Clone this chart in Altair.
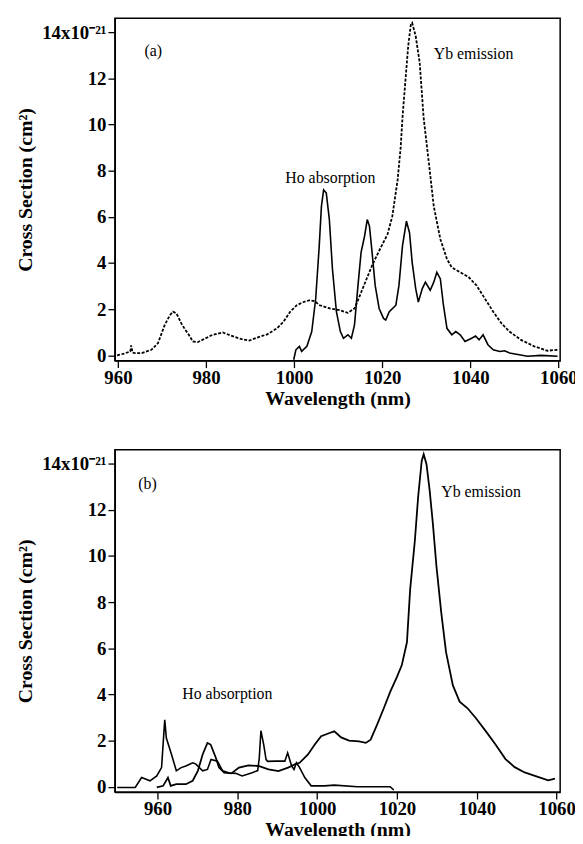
import altair as alt
import pandas as pd

# ---------------- data ----------------
# Panel (a): Yb emission (dotted curve)
a_yb_nm = [959.8, 961.5, 962.8, 963.0, 963.3, 963.9, 965.4, 967.6, 969.1, 970.6, 971.8, 972.5, 973.3, 974.4,
           975.3, 975.9, 977.0, 978.1, 979.6, 981.5, 983.8, 985.6, 987.9, 989.8, 991.6, 993.9,
           996.1, 997.6, 999.1, 1000.6, 1002.0, 1003.6, 1004.7, 1005.8, 1008.1, 1010.3, 1012.2, 1013.7,
           1014.8, 1016.3, 1017.7, 1019.3, 1021.2, 1022.3, 1023.5, 1024.2, 1024.6, 1025.3, 1025.9,
           1026.5, 1026.8, 1027.6, 1028.5, 1029.4, 1030.6, 1031.7, 1033.2, 1034.7, 1035.8, 1037.7,
           1039.6, 1041.4, 1043.3, 1045.2, 1047.1, 1048.9, 1051.5, 1054.5, 1057.5, 1059.8]
a_yb_val = [0.0, 0.08, 0.17, 0.43, 0.12, 0.1, 0.1, 0.24, 0.53, 1.31, 1.74, 1.89, 1.81, 1.38,
            1.1, 0.95, 0.6, 0.57, 0.71, 0.89, 0.99, 0.86, 0.71, 0.64, 0.77, 0.91,
            1.17, 1.46, 1.89, 2.17, 2.3, 2.39, 2.34, 2.17, 2.03, 1.96, 1.84, 2.03,
            2.53, 3.24, 3.89, 4.53, 5.24, 6.03, 7.6, 9.03, 10.3, 11.97, 13.4,
            14.33, 14.4, 13.83, 12.69, 10.3, 8.32, 6.46, 5.03, 4.17, 3.81, 3.6,
            3.39, 3.03, 2.46, 1.89, 1.38, 1.03, 0.67, 0.39, 0.2, 0.24]

# Panel (a): Ho absorption (solid curve)
a_ho_nm = [999.9, 1000.4, 1001.2, 1001.7, 1002.9, 1004.0, 1004.9, 1005.7, 1006.2, 1006.7, 1007.3,
           1008.0, 1008.7, 1009.6, 1010.5, 1011.2, 1012.2, 1013.0, 1013.7, 1014.5, 1015.2, 1016.0,
           1016.6, 1017.1, 1017.7, 1018.4, 1019.3, 1020.3, 1020.8, 1021.6, 1023.1, 1023.8, 1024.6,
           1025.5, 1026.2, 1026.8, 1027.6, 1028.2, 1029.1, 1029.8, 1030.9, 1031.7, 1032.4, 1033.2,
           1033.9, 1034.7, 1035.8, 1036.7, 1037.7, 1038.8, 1040.3, 1041.2, 1042.0, 1042.9, 1044.0,
           1045.2, 1046.7, 1047.8, 1048.9, 1053.0, 1056.0, 1059.8]
a_ho_val = [-0.19, 0.24, 0.39, 0.17, 0.39, 1.03, 2.46, 4.74, 6.46, 7.17, 7.03,
            5.88, 3.74, 1.89, 1.03, 0.74, 0.89, 0.74, 1.31, 3.03, 4.46, 5.17,
            5.88, 5.6, 4.46, 3.03, 2.03, 1.6, 1.53, 1.89, 2.17, 3.03, 4.74,
            5.81, 5.31, 4.03, 2.89, 2.31, 2.89, 3.17, 2.82, 3.17, 3.6, 3.31,
            2.17, 1.17, 0.89, 1.03, 0.89, 0.6, 0.74, 0.84, 0.67, 0.89, 0.46,
            0.24, 0.17, 0.2, 0.1, -0.04, 0.0, -0.04]

# Panel (b): Yb emission
b_yb_nm = [959.8, 961.4, 962.6, 963.3, 964.7, 967.1, 968.8, 970.1, 971.3, 972.5, 973.3, 974.6,
           975.4, 976.7, 978.5, 980.4, 982.8, 985.3, 987.8, 990.3, 992.7, 994.4, 995.6, 997.7,
           999.4, 1001.0, 1003.1, 1004.3, 1006.0, 1008.0, 1010.5, 1012.2, 1013.4, 1015.0, 1016.7,
           1018.3, 1020.0, 1021.2, 1022.5, 1023.3, 1024.5, 1025.3, 1026.2, 1026.7, 1027.4, 1028.2,
           1029.0, 1029.9, 1031.1, 1032.3, 1034.0, 1035.7, 1037.7, 1039.8, 1042.3, 1044.7, 1047.2,
           1049.5, 1052.0, 1055.5, 1057.9, 1059.6]
b_yb_val = [-0.03, 0.04, 0.4, 0.04, 0.11, 0.11, 0.26, 0.69, 1.4, 1.9, 1.83, 1.26,
            0.83, 0.61, 0.58, 0.83, 0.93, 0.9, 0.75, 0.68, 0.83, 0.97, 1.04, 1.4,
            1.83, 2.19, 2.33, 2.4, 2.14, 2.0, 1.97, 1.9, 2.04, 2.68, 3.4,
            4.11, 4.76, 5.26, 6.26, 8.54, 10.69, 12.54, 14.11, 14.4, 13.97, 12.83,
            11.4, 9.54, 7.54, 5.83, 4.4, 3.69, 3.4, 2.97, 2.4, 1.83, 1.2,
            0.85, 0.62, 0.42, 0.28, 0.35]

# Panel (b): Ho absorption
b_ho_nm = [949.9, 954.4, 956.0, 958.1, 959.8, 961.0, 961.8, 962.2, 963.5, 964.7, 965.9, 967.1,
           968.8, 969.6, 971.3, 972.5, 973.4, 975.0, 976.3, 978.0, 979.6, 981.2, 983.7, 985.1,
           985.5, 985.9, 986.6, 987.2, 987.6, 989.5, 991.9, 992.6, 993.6, 994.2, 994.8, 995.6,
           996.9, 998.5, 1001.8, 1004.3, 1010.1, 1018.3, 1019.2]
b_ho_val = [-0.03, -0.03, 0.4, 0.26, 0.47, 0.83, 2.9, 2.11, 1.4, 0.69, 0.83, 0.9,
            1.04, 0.98, 0.69, 0.75, 1.18, 1.11, 0.69, 0.6, 0.58, 0.47, 0.61, 0.7,
            1.26, 2.43, 1.83, 1.18, 1.1, 1.11, 1.11, 1.47, 0.9, 0.75, 1.04, 0.83,
            0.4, 0.04, 0.04, 0.07, 0.0, 0.0, -0.14]

# Annotations
a_labels = ["(a)", "Yb emission", "Ho absorption"]
a_lab_x = [968.0, 1031.7, 998.0]
a_lab_y = [13.17, 13.03, 7.67]
a_lab_align = ["center", "left", "left"]
b_labels = ["(b)", "Yb emission", "Ho absorption"]
b_lab_x = [957.5, 1031.1, 966.2]
b_lab_y = [13.12, 12.76, 4.0]
b_lab_align = ["center", "left", "left"]

x_ticks = [960, 980, 1000, 1020, 1040, 1060]
y_ticks = [0, 2, 4, 6, 8, 10, 12, 14]

FONT = "Liberation Serif"
W, H = 450, 346


def panel(yb_nm, yb_val, ho_nm, ho_val, labels, lx, ly, lalign, xdom, yb_dash):
    df_yb = pd.DataFrame({"nm": yb_nm, "v": yb_val})
    df_ho = pd.DataFrame({"nm": ho_nm, "v": ho_val})
    x = alt.X("nm:Q",
              scale=alt.Scale(domain=xdom, nice=False, zero=False),
              axis=alt.Axis(values=x_ticks, title="Wavelength (nm)", format="d"))
    y = alt.Y("v:Q",
              scale=alt.Scale(domain=[-0.23, 14.6], nice=False, zero=False),
              axis=alt.Axis(values=y_ticks, title="Cross Section (cm²)",
                            labelExpr="datum.value == 14 ? '14x10⁻²¹' : datum.label"))
    extra = {"strokeDash": [3, 1.6]} if yb_dash else {}
    yb = alt.Chart(df_yb).mark_line(color="black", strokeWidth=1.8, clip=True, **extra).encode(x=x, y=y)
    ho = alt.Chart(df_ho).mark_line(color="black", strokeWidth=1.6, clip=True).encode(x=x, y=y)
    layers = [yb, ho]
    for align in ["center", "left"]:
        sub = pd.DataFrame({"t": [t for t, a in zip(labels, lalign) if a == align],
                            "nm": [v for v, a in zip(lx, lalign) if a == align],
                            "v": [v for v, a in zip(ly, lalign) if a == align]})
        layers.append(alt.Chart(sub).mark_text(font=FONT, fontSize=16, color="black",
                                               align=align, baseline="middle")
                      .encode(x="nm:Q", y="v:Q", text="t:N"))
    return alt.layer(*layers).properties(width=W, height=H)


top = panel(a_yb_nm, a_yb_val, a_ho_nm, a_ho_val, a_labels, a_lab_x, a_lab_y, a_lab_align,
            [959.3, 1060.4], True)
bottom = panel(b_yb_nm, b_yb_val, b_ho_nm, b_ho_val, b_labels, b_lab_x, b_lab_y, b_lab_align,
               [949.3, 1060.9], False)

chart = (alt.vconcat(top, bottom, spacing=40)
         .properties(padding={"left": 7, "top": 5, "right": -3, "bottom": -9}, background="white")
         .configure_view(stroke="black", strokeWidth=1.5)
         .configure_axis(labelFont=FONT, labelFontSize=19, labelFontWeight="bold", labelColor="black",
                         titleFont=FONT, titleFontSize=20, titleFontWeight="bold", titleColor="black",
                         tickColor="black", tickSize=7, tickWidth=1.3, domainColor="black",
                         domainWidth=1.3, grid=False)
         .configure_axisX(titlePadding=1, labelPadding=1, labelFlush=False)
         .configure_axisY(titlePadding=6, labelPadding=2))

chart.save("out.html", embed_options={"renderer": "svg", "actions": False})
